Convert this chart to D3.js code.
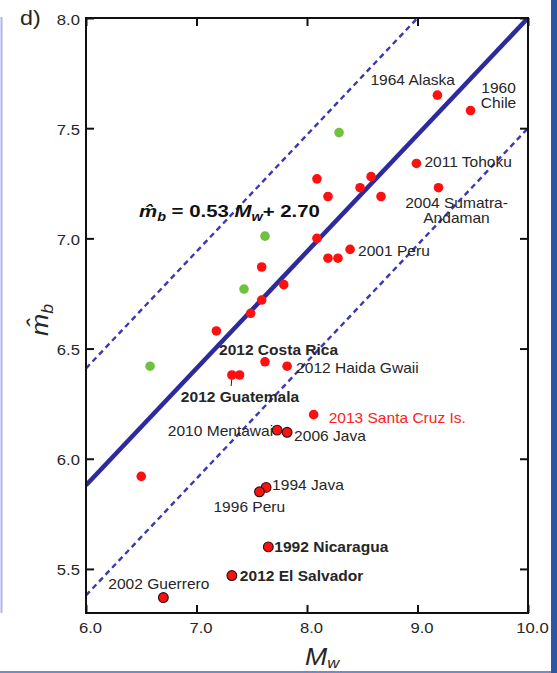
<!DOCTYPE html>
<html>
<head>
<meta charset="utf-8">
<script src="https://cdn.jsdelivr.net/npm/d3@7"></script>
<style>
  html, body { margin: 0; padding: 0; background: #ffffff; }
  svg { display: block; }
</style>
</head>
<body>
<svg id="chart" width="557" height="673"></svg>
<script>
// Moment magnitude M_w and estimated body-wave magnitude m_b for each event (red)
const redMw = [9.18, 9.48, 8.99, 9.19, 8.09, 8.58, 8.48, 8.19, 8.67, 8.09, 8.39, 8.19, 8.28,
               7.59, 7.79, 7.59, 7.49, 7.18, 7.62, 7.82, 7.32, 7.39, 8.06, 7.73, 7.82,
               6.50, 7.63, 7.57, 7.65, 7.32, 6.70];
const redMb = [7.65, 7.58, 7.34, 7.23, 7.27, 7.28, 7.23, 7.19, 7.19, 7.00, 6.95, 6.91, 6.91,
               6.87, 6.79, 6.72, 6.66, 6.58, 6.44, 6.42, 6.38, 6.38, 6.20, 6.13, 6.12,
               5.92, 5.87, 5.85, 5.60, 5.47, 5.37];
const redNames = ["1964 Alaska", "1960 Chile", "2011 Tohoku", "2004 Sumatra-Andaman", "", "", "", "", "", "",
                  "2001 Peru", "", "", "", "", "", "", "", "2012 Costa Rica", "2012 Haida Gwaii",
                  "2012 Guatemala", "", "2013 Santa Cruz Is.", "2010 Mentawai", "2006 Java",
                  "", "1994 Java", "1996 Peru", "1992 Nicaragua", "2012 El Salvador", "2002 Guerrero"];

// Second group of events (green)
const greenMw = [8.29, 7.62, 7.43, 6.58];
const greenMb = [7.48, 7.01, 6.77, 6.42];

// Axis ticks
const xTicks = [6.0, 7.0, 8.0, 9.0, 10.0];
const yTicks = [5.5, 6.0, 6.5, 7.0, 7.5, 8.0];

// Regression m_b = 0.53 M_w + 2.70 and its bounding lines
const fitSlope = 0.53;
const fitIntercept = 2.70;
const bandOffsets = [0.53, -0.50];

// ---------- layout & style ----------
const svg = d3.select("#chart");
const W = 557, H = 673;
const plot = { left: 86, right: 528, top: 18, bottom: 613 };
const x = d3.scaleLinear().domain([6, 10]).range([plot.left, plot.right]);
const y = d3.scaleLinear().domain([5.3, 8.0]).range([plot.bottom, plot.top]);

const FONT = "'Liberation Sans', Arial, Helvetica, sans-serif";
const SX = 1.11;           // horizontal stretch of lettering
const textColor = "#262626";

const outlined = new Set(["2010 Mentawai", "2006 Java", "1994 Java", "1996 Peru",
                          "1992 Nicaragua", "2012 El Salvador", "2002 Guerrero"]);
const boldNames = new Set(["2012 Costa Rica", "2012 Guatemala", "1992 Nicaragua", "2012 El Salvador"]);
const redText = new Set(["2013 Santa Cruz Is."]);

// label offsets in px from the point: [dx, dy, anchor, lines]
const labelLayout = {
  "1964 Alaska":          { dx: -67, dy: -10, anchor: "start" },
  "1960 Chile":           { dx: 28,  dy: -18, anchor: "middle", lines: ["1960", "Chile"] },
  "2011 Tohoku":          { dx: 8,   dy: 4,   anchor: "start" },
  "2004 Sumatra-Andaman": { dx: 18,  dy: 20,  anchor: "middle", lines: ["2004 Sumatra-", "Andaman"] },
  "2001 Peru":            { dx: 8,   dy: 7,   anchor: "start" },
  "2012 Costa Rica":      { dx: -46, dy: -7,  anchor: "start" },
  "2012 Haida Gwaii":     { dx: 9,   dy: 7,   anchor: "start" },
  "2012 Guatemala":       { dx: -51, dy: 27,  anchor: "start" },
  "2013 Santa Cruz Is.":  { dx: 15,  dy: 8,   anchor: "start" },
  "2010 Mentawai":        { dx: -4,  dy: 6,   anchor: "end" },
  "2006 Java":            { dx: 7,   dy: 9,   anchor: "start" },
  "1994 Java":            { dx: 6,   dy: 3,   anchor: "start" },
  "1996 Peru":            { dx: -46, dy: 20,  anchor: "start" },
  "1992 Nicaragua":       { dx: 6,   dy: 5,   anchor: "start" },
  "2012 El Salvador":     { dx: 8,   dy: 5,   anchor: "start" },
  "2002 Guerrero":        { dx: -55, dy: -9,  anchor: "start" }
};

// ---------- page frame ----------
svg.append("rect").attr("x", 0).attr("y", 0).attr("width", W).attr("height", H).attr("fill", "#fff");
svg.append("line").attr("x1", 1.5).attr("x2", 1.5).attr("y1", 17).attr("y2", 613)
  .attr("stroke", "#aeb3ee").attr("stroke-width", 2);
svg.append("line").attr("x1", 0).attr("x2", 552).attr("y1", 672).attr("y2", 672)
  .attr("stroke", "#4467b0").attr("stroke-width", 1.5);
svg.append("rect").attr("x", 551).attr("y", 0).attr("width", 6).attr("height", H).attr("fill", "#2c56a2");

// ---------- clip ----------
svg.append("defs").append("clipPath").attr("id", "plotClip")
  .append("rect").attr("x", plot.left).attr("y", plot.top)
  .attr("width", plot.right - plot.left).attr("height", plot.bottom - plot.top);

// ---------- regression lines ----------
const lineGen = d3.line().x(d => x(d[0])).y(d => y(d[1]));
const lines = svg.append("g").attr("clip-path", "url(#plotClip)");
bandOffsets.forEach(off => {
  lines.append("path")
    .attr("d", lineGen([6, 10].map(m => [m, fitSlope * m + fitIntercept + off])))
    .attr("fill", "none").attr("stroke", "#3b38b4").attr("stroke-width", 2.4)
    .attr("stroke-dasharray", "5.5,4");
});
lines.append("path")
  .attr("d", lineGen([6, 10].map(m => [m, fitSlope * m + fitIntercept])))
  .attr("fill", "none").attr("stroke", "#2c2a9c").attr("stroke-width", 4.5);

// ---------- axes ----------
function stretchText(sel) {
  sel.selectAll("text").each(function () {
    const t = d3.select(this);
    const tx = +t.attr("x") || 0, ty = +t.attr("y") || 0;
    t.attr("transform", `translate(${tx},${ty}) scale(${SX},1)`).attr("x", 0).attr("y", 0);
  });
}
const fmt = d3.format(".1f");
const axisStyle = g => {
  g.select(".domain").remove();
  g.selectAll(".tick line").attr("stroke", "#111").attr("stroke-width", 2);
  g.selectAll("text").attr("font-family", FONT).attr("font-size", 15).attr("fill", textColor);
};

const gLeft = svg.append("g").attr("transform", `translate(${plot.left},0)`)
  .call(d3.axisLeft(y).tickValues(yTicks).tickFormat(fmt).tickSizeInner(-8).tickSizeOuter(0).tickPadding(6))
  .call(axisStyle);
gLeft.selectAll("text").attr("dy", "0.4em");
stretchText(gLeft);

const gBottom = svg.append("g").attr("transform", `translate(0,${plot.bottom})`)
  .call(d3.axisBottom(x).tickValues(xTicks).tickFormat(fmt).tickSizeInner(-8).tickSizeOuter(0).tickPadding(9))
  .call(axisStyle);
gBottom.selectAll("text").attr("x", 4);
stretchText(gBottom);

svg.append("g").attr("transform", `translate(${plot.right},0)`)
  .call(d3.axisRight(y).tickValues(yTicks).tickFormat("").tickSizeInner(-8).tickSizeOuter(0))
  .call(axisStyle);
svg.append("g").attr("transform", `translate(0,${plot.top})`)
  .call(d3.axisTop(x).tickValues(xTicks).tickFormat("").tickSizeInner(-8).tickSizeOuter(0))
  .call(axisStyle);

svg.append("rect")
  .attr("x", plot.left).attr("y", plot.top)
  .attr("width", plot.right - plot.left).attr("height", plot.bottom - plot.top)
  .attr("fill", "none").attr("stroke", "#111").attr("stroke-width", 2);

// ---------- points ----------
const greenData = greenMw.map((m, i) => ({ mw: m, mb: greenMb[i] }));
const redData = redMw.map((m, i) => ({ mw: m, mb: redMb[i], name: redNames[i] }));

svg.append("g").selectAll("circle").data(greenData).join("circle")
  .attr("cx", d => x(d.mw)).attr("cy", d => y(d.mb)).attr("r", 4.8)
  .attr("fill", "#6fc23f");

// leader line for Guatemala
const gua = redData.find(d => d.name === "2012 Guatemala");
svg.append("line")
  .attr("x1", x(gua.mw)).attr("x2", x(gua.mw) - 0.7)
  .attr("y1", y(gua.mb) + 3).attr("y2", y(gua.mb) + 11)
  .attr("stroke", "#222").attr("stroke-width", 1);

svg.append("g").selectAll("circle").data(redData).join("circle")
  .attr("cx", d => x(d.mw)).attr("cy", d => y(d.mb))
  .attr("r", d => outlined.has(d.name) ? 4.9 : 4.8)
  .attr("fill", "#ff1010")
  .attr("stroke", d => outlined.has(d.name) ? "#2a1010" : "none")
  .attr("stroke-width", 1.1);

// ---------- point labels ----------
const labelG = svg.append("g");
redData.filter(d => d.name).forEach(d => {
  const L = labelLayout[d.name];
  const textLines = L.lines || [d.name];
  textLines.forEach((s, k) => {
    labelG.append("text")
      .attr("transform", `translate(${x(d.mw) + L.dx},${y(d.mb) + L.dy + k * 15.5}) scale(${SX},1)`)
      .attr("text-anchor", L.anchor)
      .attr("font-family", FONT).attr("font-size", 14)
      .attr("font-weight", boldNames.has(d.name) ? "bold" : "normal")
      .attr("fill", redText.has(d.name) ? "#ff2020" : textColor)
      .text(s);
  });
});

// ---------- regression equation ----------
const eq = svg.append("text")
  .attr("transform", `translate(139,217) scale(1.2,1)`)
  .attr("font-family", FONT).attr("font-size", 17).attr("font-weight", "bold").attr("fill", "#111");
eq.append("tspan").attr("font-style", "italic").text("m\u0302");
eq.append("tspan").attr("font-style", "italic").attr("font-size", 12).attr("dy", 4).text("b");
eq.append("tspan").attr("dy", -4).text(` = ${fitSlope.toFixed(2)} `);
eq.append("tspan").attr("font-style", "italic").text("M");
eq.append("tspan").attr("font-style", "italic").attr("font-size", 12).attr("dy", 4).text("w");
eq.append("tspan").attr("dy", -4).text(`+ ${fitIntercept.toFixed(2)}`);

// ---------- axis titles & panel letter ----------
const xt = svg.append("text")
  .attr("transform", `translate(305,665) scale(${SX},1)`)
  .attr("font-family", FONT).attr("font-size", 24).attr("font-style", "italic").attr("fill", textColor);
xt.append("tspan").text("M");
xt.append("tspan").attr("font-size", 15).attr("dy", 3).text("w");

const yt = svg.append("text")
  .attr("transform", `translate(48,336) rotate(-90) scale(${SX},1)`)
  .attr("font-family", FONT).attr("font-size", 24).attr("font-style", "italic").attr("fill", textColor);
yt.append("tspan").text("m\u0302");
yt.append("tspan").attr("font-size", 16).attr("dy", 5).text("b");

svg.append("text")
  .attr("transform", `translate(20,25) scale(${SX},1)`)
  .attr("font-family", FONT).attr("font-size", 21).attr("fill", textColor)
  .text("d)");
</script>
</body>
</html>
